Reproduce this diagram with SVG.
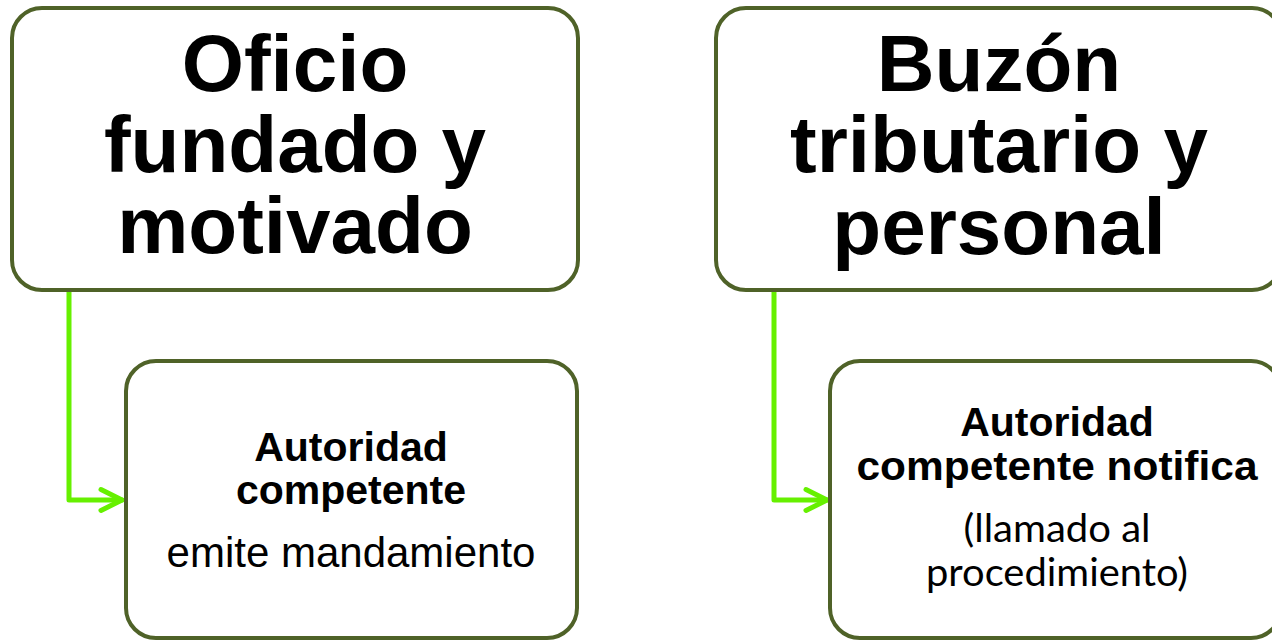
<svg xmlns="http://www.w3.org/2000/svg" width="1272" height="642" viewBox="0 0 1272 642">
<style>
.box{fill:#ffffff;stroke:#4f6228;stroke-width:4}
.conn{fill:none;stroke:#66f000;stroke-width:5;stroke-linecap:round;stroke-linejoin:round}
.big{font-family:"Liberation Sans",Arial,sans-serif;font-weight:bold;font-size:80px;fill:#000;text-anchor:middle}
.mid{font-family:"Liberation Sans",Arial,sans-serif;font-weight:bold;font-size:41px;fill:#000;text-anchor:middle}
.reg{font-family:"Liberation Sans",Arial,sans-serif;font-size:42px;fill:#000;text-anchor:middle}
.cal{font-family:Lato,"Open Sans",sans-serif;font-size:38px;fill:#000;text-anchor:middle}
</style>
<defs>
<marker id="chev" markerUnits="userSpaceOnUse" markerWidth="30" markerHeight="30" viewBox="-26 -15 30 30" refX="0" refY="0" orient="auto">
<path d="M-21,-10.5 L0,0 L-21,10.5" fill="none" stroke="#66f000" stroke-width="5" stroke-linecap="round" stroke-linejoin="round"/>
</marker>
</defs>
<rect width="1272" height="642" fill="#ffffff"/>
<g id="connectors">
<path class="conn" d="M69,292 L69,500 L122,500" marker-end="url(#chev)"/>
<path class="conn" d="M774,292 L774,500 L827,500" marker-end="url(#chev)"/>
</g>
<g id="node-oficio">
<rect class="box" x="12" y="8" width="566" height="282" rx="30"/>
<text class="big" x="295" y="91">Oficio<tspan x="295" y="172">fundado y</tspan><tspan x="295" y="253">motivado</tspan></text>
</g>
<g id="node-buzon">
<rect class="box" x="716" y="8" width="566" height="282" rx="30"/>
<text class="big" x="999" y="91">Buzón<tspan x="999" y="172">tributario y</tspan><tspan x="999" y="254">personal</tspan></text>
</g>
<g id="node-autoridad-emite">
<rect class="box" x="126" y="361" width="451" height="277" rx="30"/>
<text class="mid" x="351" y="461">Autoridad</text>
<text class="mid" x="351" y="504">competente</text>
<text class="reg" x="351" y="567">emite mandamiento</text>
</g>
<g id="node-autoridad-notifica">
<rect class="box" x="830" y="361" width="451" height="277" rx="30"/>
<text class="mid" x="1057" y="436">Autoridad</text>
<text class="mid" x="1057" y="480" textLength="401" lengthAdjust="spacingAndGlyphs">competente notifica</text>
<text class="cal" x="1057" y="542" textLength="187" lengthAdjust="spacingAndGlyphs">(llamado al</text>
<text class="cal" x="1057" y="586" textLength="262" lengthAdjust="spacingAndGlyphs">procedimiento)</text>
</g>
</svg>
